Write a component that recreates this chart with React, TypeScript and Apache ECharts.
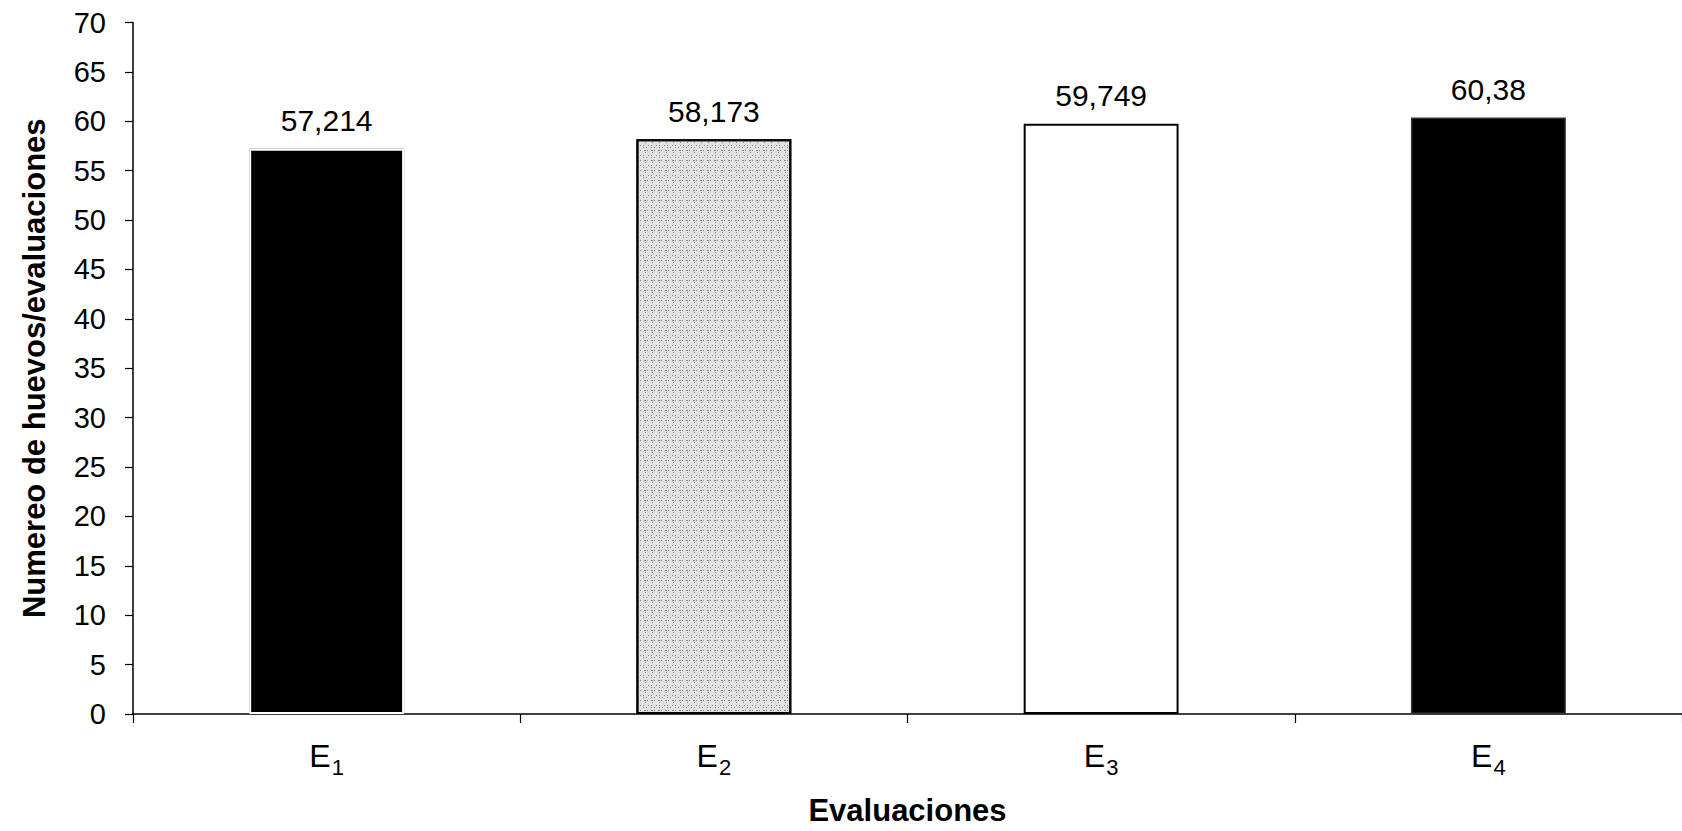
import React, { useEffect, useRef } from "react";
import * as echarts from "echarts";

const categories = ["1", "2", "3", "4"];
const values = [57.214, 58.173, 59.749, 60.38];
const yTicks = { min: 0, max: 70, interval: 5 };
const yTitle = "Numereo de huevos/evaluaciones";
const xTitle = "Evaluaciones";

const FONT = "'Liberation Sans', Arial, Helvetica, sans-serif";

export default function App() {
  const ref = useRef<HTMLDivElement>(null);
  useEffect(() => {
    if (!ref.current) return;
    const chart = echarts.init(ref.current, undefined, { renderer: "svg" });
    const styles = [
      { color: "#000", borderColor: "#000", borderWidth: 5 },
      {
        color: "#e2e2e2",
        borderColor: "#000",
        borderWidth: 2,
        decal: {
          symbol: "rect",
          symbolSize: 0.9,
          color: "rgba(45,45,45,0.55)",
          dashArrayX: [[1, 2, 1, 4], [0, 3, 1, 2, 1, 1], [2, 1, 1, 3], [0, 1, 1, 5]],
          dashArrayY: [1, 1, 1, 2],
          rotation: 0,
        },
      },
      { color: "#fff", borderColor: "#000", borderWidth: 2 },
      { color: "#000", borderColor: "#333", borderWidth: 1.5 },
    ];
    chart.setOption({
      animation: false,
      backgroundColor: "#fff",
      grid: { left: 133, right: -2, top: 22.5, bottom: 116.5, containLabel: false },
      xAxis: {
        type: "category",
        data: categories,
        name: xTitle,
        nameLocation: "middle",
        nameGap: 81,
        nameTextStyle: { fontFamily: FONT, fontSize: 31, fontWeight: "bold", color: "#000" },
        axisLine: { lineStyle: { color: "#000", width: 1.5 } },
        axisTick: { show: true, length: 9, lineStyle: { color: "#000", width: 1.2 } },
        axisLabel: {
          margin: 19,
          formatter: (v: string) => `{e|E}{s|${v}}`,
          rich: {
            e: { fontFamily: FONT, fontSize: 32, lineHeight: 46, color: "#000" },
            s: { fontFamily: FONT, fontSize: 22, lineHeight: 46, padding: [23, 0, 0, 1], color: "#000" },
          },
        },
      },
      yAxis: {
        type: "value",
        min: yTicks.min,
        max: yTicks.max,
        interval: yTicks.interval,
        name: yTitle,
        nameLocation: "middle",
        nameGap: 83,
        nameTextStyle: { fontFamily: FONT, fontSize: 31, fontWeight: "bold", color: "#000" },
        axisLine: { show: true, lineStyle: { color: "#000", width: 1.5 } },
        axisTick: { show: true, length: 8, lineStyle: { color: "#000", width: 1.2 } },
        axisLabel: { margin: 27, fontFamily: FONT, fontSize: 29, color: "#000" },
        splitLine: { show: false },
      },
      series: [
        {
          type: "bar",
          barWidth: "40%",
          barGap: "-100%",
          data: values.map((v, i) => ({ value: v, itemStyle: styles[i] })),
          label: {
            show: true,
            position: "top",
            distance: 13,
            fontFamily: FONT,
            fontSize: 30,
            color: "#000",
            formatter: (p: any) => String(p.value).replace(".", ","),
          },
        },
        {
          type: "bar",
          barWidth: "40%",
          barGap: "-100%",
          silent: true,
          data: values.map((v, i) => (i === 0 ? v : "-")),
          itemStyle: { color: "rgba(0,0,0,0)", borderColor: "#fff", borderWidth: 2 },
          label: { show: false },
        },
      ],
    });
    return () => chart.dispose();
  }, []);
  return (
    <div
      ref={ref}
      style={{ position: "absolute", left: 0, top: 0, width: 1682, height: 831, background: "#fff" }}
    />
  );
}
